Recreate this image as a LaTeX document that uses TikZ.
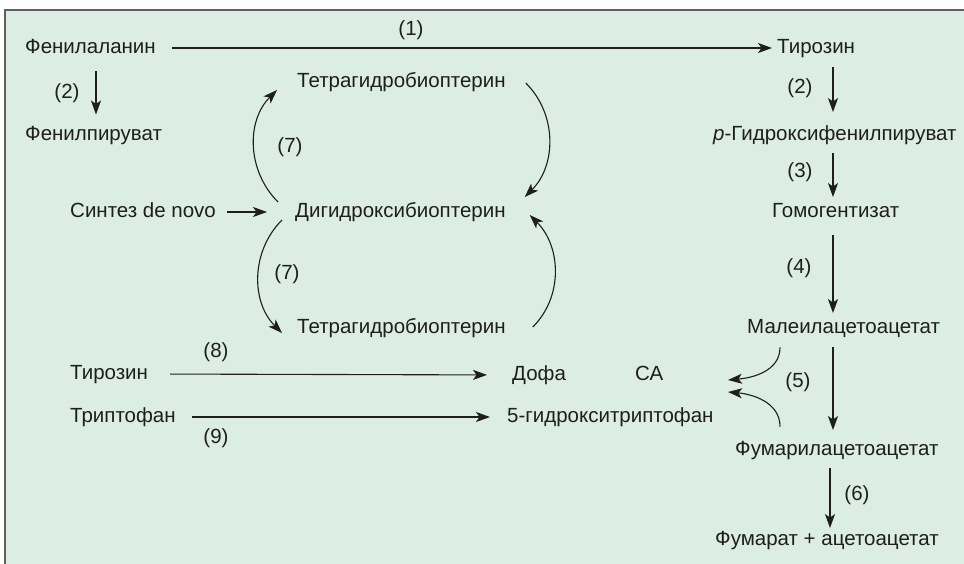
\documentclass[tikz,border=0pt]{standalone}
\usepackage{fontspec}
\setmainfont{Liberation Sans}
\usepackage{tikz}
\usetikzlibrary{arrows.meta,calc}
\definecolor{bgmint}{RGB}{220,237,228}
\definecolor{ink}{RGB}{30,30,30}
\definecolor{rim}{RGB}{95,95,95}
\tikzset{
	lbl/.style={inner sep=0pt, anchor=west, text=ink, text height=14.5pt, text depth=4pt, font=\fontsize{20.5}{24}\selectfont},
	num/.style={inner sep=0pt, text=ink, font=\fontsize{20.5}{24}\selectfont},
	arr/.style={draw=ink, line width=1.1pt, -{Stealth[length=14pt,width=10pt,inset=3.5pt]}}
}

\begin{document}
\begin{tikzpicture}[x=1pt,y=1pt]
			%%%%% START %%%%%
			\useasboundingbox (0,0) rectangle (964,-564);
			\fill[bgmint] (5,-10) rectangle (964,-564);
			\draw[rim, line width=1.6pt] (964,-10) -- (5,-10) -- (5,-564);
			
			% main chain
			\node[lbl] (phe) at (25,-48) {Фенилаланин};
			\node[lbl] (ppy) at (25,-135) {Фенилпируват};
			\node[lbl] (tyrA) at (777,-48) {Тирозин};
			\node[lbl] (hpp) at (713,-135) {\textit{p}-Гидроксифенилпируват};
			\node[lbl] (hga) at (772,-212) {Гомогентизат};
			\node[lbl] (maa) at (747,-328) {Малеилацетоацетат};
			\node[lbl] (faa) at (735,-450) {Фумарилацетоацетат};
			\node[lbl] (fum) at (715,-540) {Фумарат + ацетоацетат};
			
			% pterin cycle
			\node[lbl] (thbA) at (297,-82) {Тетрагидробиоптерин};
			\node[lbl] (dnv) at (70,-212) {Синтез de novo};
			\node[lbl] (dhb) at (295,-212) {Дигидроксибиоптерин};
			\node[lbl] (thbB) at (297,-328) {Тетрагидробиоптерин};
			
			% hydroxylases
			\node[lbl] (tyrB) at (70,-374) {Тирозин};
			\node[lbl] (dopa) at (512,-375) {Дофа};
			\node[lbl] (sa) at (635,-375) {СА};
			\node[lbl] (trp) at (70,-417) {Триптофан};
			\node[lbl] (htp) at (507,-417) {5-гидрокситриптофан};
			
			% enzyme numbers
			\node[num] (n1) at (411,-30) {(1)};
			\node[num] (n2a) at (67,-93) {(2)};
			\node[num] (n2b) at (800,-88) {(2)};
			\node[num] (n3) at (800,-172) {(3)};
			\node[num] (n4) at (799,-268) {(4)};
			\node[num] (n5) at (798,-382) {(5)};
			\node[num] (n6) at (857,-495) {(6)};
			\node[num] (n7a) at (290,-147) {(7)};
			\node[num] (n7b) at (287,-274) {(7)};
			\node[num] (n8) at (216,-352) {(8)};
			\node[num] (n9) at (216,-438) {(9)};
			
			\coordinate (lx) at (96,0);
			\coordinate (rx) at (833,0);
			\coordinate (c5a) at (728,-380);
			\coordinate (c5b) at (728,-392);
			
			\draw[arr, shorten <=16pt, shorten >=5pt] (phe.east) -- (tyrA.west);
			\draw[arr, shorten <=14pt, shorten >=11pt] (phe.south -| lx) -- (ppy.north -| lx);
			
			\draw[arr, shorten <=10pt, shorten >=13.5pt] (tyrA.south -| rx) -- (hpp.north -| rx);
			\draw[arr, shorten <=9pt, shorten >=5.5pt] (hpp.south -| rx) -- (hga.north -| rx);
			\draw[arr, shorten <=14pt, shorten >=5.5pt] (hga.south -| rx) -- (maa.north -| rx);
			\draw[arr, shorten <=10pt, shorten >=10.5pt] (maa.south -| rx) -- (faa.north -| rx);
			\draw[arr, shorten <=9pt, shorten >=2.5pt] ([xshift=-3pt]faa.south -| rx) -- ([xshift=-3pt]fum.north -| rx);
			
			\draw[arr, shorten <=11pt, shorten >=28pt] (dnv.east) -- (dhb.west);
			\draw[arr, shorten <=22pt, shorten >=25pt] (tyrB.east) -- (dopa.west);
			\draw[arr, shorten <=16pt, shorten >=17pt] (trp.east) -- (htp.west);
			
			\draw[arr] ([shift={(-17,10)}]dhb.west) to[out=135,in=225] ([shift={(-20,-8)}]thbA.west);
			\draw[arr] ([shift={(20,-1)}]thbA.east) to[out=-45,in=45] ([shift={(19,15)}]dhb.east);
			\draw[arr] ([shift={(-13,-8)}]dhb.west) to[out=225,in=135] ([shift={(-15,-5)}]thbB.west);
			\draw[arr] ([shift={(27,1)}]thbB.east) to[out=45,in=-45] ([shift={(24,-3)}]dhb.east);
			
			\draw[arr] ([shift={(33,-10)}]maa.south west) to[out=-90,in=5] (c5a);
			\draw[arr] ([shift={(45,14)}]faa.north west) to[out=90,in=-5] (c5b);
			%%%%% END %%%%%
		\end{tikzpicture}
\end{document}
